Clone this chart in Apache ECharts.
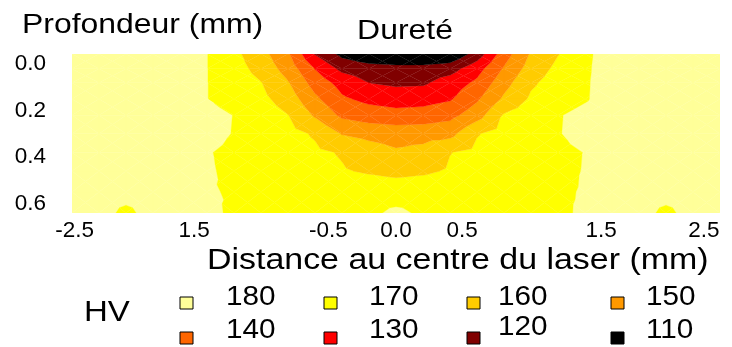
<!DOCTYPE html>
<html><head><meta charset="utf-8">
<script src="https://cdn.jsdelivr.net/npm/echarts@6/dist/echarts.min.js"></script>
<style>html,body{margin:0;padding:0;background:#fff}#c{width:732px;height:347px}</style>
</head><body><div id="c"></div>
<script>
// ---- data ----
const xValues = [-2.4,-2.2,-2.0,-1.8,-1.6,-1.4,-1.2,-1.0,-0.8,-0.6,-0.4,-0.2,0,0.2,0.4,0.6,0.8,1.0,1.2,1.4,1.6,1.8,2.0,2.2,2.4];
const yValues = [-0.043,0.02,0.08,0.15,0.22,0.30,0.38,0.46,0.55,0.64];
const hvRow0 = [180,180,180,180,180,175.2,167.4,158.8,146.3,124.5,112.3,106,103,103,106,119.4,140.4,156.1,164.6,172.9,180,180,180,180,180];
const hvRow1 = [180,180,180,180,180,175.2,168.9,161.8,150.9,134.7,122.5,120,119,119,121,131.1,146,159.4,167.4,173.4,180,180,180,180,180];
const hvRow2 = [180,180,180,180,180,175.2,170.1,165.3,155.7,140.8,131.4,124.9,123,123.5,129.5,137,151.3,163.5,169.1,173.8,180,180,180,180,180];
const hvRow3 = [180,180,180,180,180,175.2,171.3,167.5,160.6,147.1,136.5,132.5,131,131.5,134,143.6,156.7,166.5,170.3,174,180,180,180,180,180];
const hvRow4 = [180,180,180,180,180,178,174.8,170,165.2,153.7,143,140,138.2,139,142,150.7,166,169.8,174.3,178,180,180,180,180,180];
const hvRow5 = [180,180,180,180,180,178,174.6,171.3,168,164,154.5,152,151,151.5,152,164.5,168.3,171.4,174.5,178,180,180,180,180,180];
const hvRow6 = [180,180,180,180,180,175.5,173.3,171.1,168.9,166.7,164.3,160,156.3,158,164.8,166.9,169,171,173.1,175.2,180,180,180,180,180];
const hvRow7 = [180,180,180,180,180,175.7,173.7,171.7,169.7,167.7,165.7,164,162.5,163.5,165.9,167.8,169.7,171.6,173.5,175.3,180,180,180,180,180];
const hvRow8 = [180,180,180,180,180,175.4,174.6,173.8,173,172.3,171.6,170.9,170.3,171,171.6,172.2,172.9,173.5,174.2,175.4,180,180,180,180,180];
const hvRow9 = [180,180,172,180,180,176.5,174,173.5,173,172.8,172.8,173,177,173.5,172.8,172.8,173,173.3,173.8,176,180,180,172,180,180];
const hardness = [hvRow0,hvRow1,hvRow2,hvRow3,hvRow4,hvRow5,hvRow6,hvRow7,hvRow8,hvRow9];

const levelLabels = ['180','170','160','150','140','130','120','110'];
const levelColors = ['#FFFF99','#FFFF00','#FFCC00','#FF9900','#FF6600','#FF0000','#800000','#000000'];
const levelLower = [175,165,155,145,135,125,115,-Infinity];
const levelUpper = [Infinity,175,165,155,145,135,125,115];

const xTickValues = [-2.381,-1.496,-0.5,0,0.49,1.519,2.281];
const xTickLabels = ['-2.5','1.5','-0.5','0.0','0.5','1.5','2.5'];
const yTickValues = [0,0.2,0.4,0.6];
const yTickLabels = ['0.0','0.2','0.4','0.6'];

const titleText = 'Dureté';
const xName = 'Distance au centre du laser (mm)';
const yName = 'Profondeur (mm)';
const legendName = 'HV';

// ---- build cells ----
const cells = [];
for (let j = 0; j < yValues.length - 1; j++) {
  for (let i = 0; i < xValues.length - 1; i++) {
    cells.push([(xValues[i] + xValues[i+1]) / 2, (yValues[j] + yValues[j+1]) / 2, i, j]);
  }
}

function clip(poly, t, keepAbove) {
  if (!isFinite(t) || poly.length < 3) return poly;
  const inside = p => keepAbove ? p.v >= t : p.v < t;
  const out = [];
  for (let k = 0; k < poly.length; k++) {
    const a = poly[k], b = poly[(k + 1) % poly.length];
    const ia = inside(a), ib = inside(b);
    if (ia) out.push(a);
    if (ia !== ib) {
      const s = (t - a.v) / (b.v - a.v);
      out.push({x: a.x + s * (b.x - a.x), y: a.y + s * (b.y - a.y), v: t});
    }
  }
  return out;
}

function nearestLabel(v, vals, labels) {
  let best = -1, bd = 1e9;
  for (let k = 0; k < vals.length; k++) { const d = Math.abs(vals[k] - v); if (d < bd) { bd = d; best = k; } }
  return bd < 1e-6 ? labels[best] : '';
}

function renderItem(params, api) {
  const i = api.value(2), j = api.value(3);
  const corners = [[i, j], [i + 1, j], [i + 1, j + 1], [i, j + 1]].map(([a, b]) => {
    const p = api.coord([xValues[a], yValues[b]]);
    return {x: p[0], y: p[1], v: hardness[b][a]};
  });
  const c = {
    x: (corners[0].x + corners[1].x + corners[2].x + corners[3].x) / 4,
    y: (corners[0].y + corners[1].y + corners[2].y + corners[3].y) / 4,
    v: (corners[0].v + corners[1].v + corners[2].v + corners[3].v) / 4
  };
  const children = [];
  for (let k = 0; k < 4; k++) {
    const tri = [corners[k], corners[(k + 1) % 4], c];
    for (let L = 0; L < levelColors.length; L++) {
      let poly = clip(tri, levelLower[L], true);
      poly = clip(poly, levelUpper[L], false);
      if (poly.length >= 3) {
        children.push({type: 'polygon', shape: {points: poly.map(p => [p.x, p.y])},
          style: {fill: levelColors[L], stroke: levelColors[L], lineWidth: 0.3}});
      }
    }
  }
  return {type: 'group', children};
}

// ---- layout ----
const FONT = '"Liberation Sans", Arial, sans-serif';
const SX = 1.1;
const graphics = [];
function addText(text, x, y, size, align, sx) {
  graphics.push({type: 'text', x, y, scaleX: sx, silent: true,
    style: {text, fill: '#000', fontSize: size, fontFamily: FONT,
      align, textAlign: align, verticalAlign: 'middle', textVerticalAlign: 'middle'}});
}
addText(titleText, 405, 31, 28.5, 'center', 1.12);
addText(yName, 22, 25, 28.5, 'left', 1.12);
addText(xName, 207, 261, 29.5, 'left', 1.15);
addText(legendName, 84, 313, 30, 'left', SX);
const sqX = [180, 324, 467, 611];
const txX = [226, 369, 498, 646];
const sqTop = [297, 332];
const txY = [298, 331];
const txDy = [0, 0, 0, 0, 0, 0, -3, 0];
levelLabels.forEach((lab, k) => {
  const col = k % 4, row = Math.floor(k / 4);
  graphics.push({type: 'rect', silent: true, shape: {x: sqX[col], y: sqTop[row], width: 13, height: 12},
    style: {fill: levelColors[k], stroke: '#000', lineWidth: 1}});
  addText(lab, txX[col], txY[row] + txDy[k], 27, 'left', SX);
});

const chart = echarts.init(document.getElementById('c'), null, {renderer: 'canvas'});
chart.setOption({
  animation: false,
  backgroundColor: '#fff',
  grid: {left: 72, right: 12, top: 54, bottom: 134, containLabel: false},
  xAxis: {
    type: 'value', min: -2.4, max: 2.4,
    axisLine: {show: false}, axisTick: {show: false}, splitLine: {show: false},
    axisLabel: {customValues: xTickValues, formatter: v => nearestLabel(v, xTickValues, xTickLabels),
      margin: 6, fontSize: 22.5, color: '#000', fontFamily: FONT}
  },
  yAxis: {
    type: 'value', inverse: true, min: -0.043, max: 0.64,
    axisLine: {show: false}, axisTick: {show: false}, splitLine: {show: false},
    axisLabel: {customValues: yTickValues, formatter: v => nearestLabel(v, yTickValues, yTickLabels),
      margin: 26, fontSize: 22.5, color: '#000', fontFamily: FONT}
  },
  series: [{
    type: 'custom', coordinateSystem: 'cartesian2d', renderItem, data: cells,
    encode: {x: 0, y: 1}, silent: true, clip: true
  }],
  graphic: graphics
});
</script></body></html>
